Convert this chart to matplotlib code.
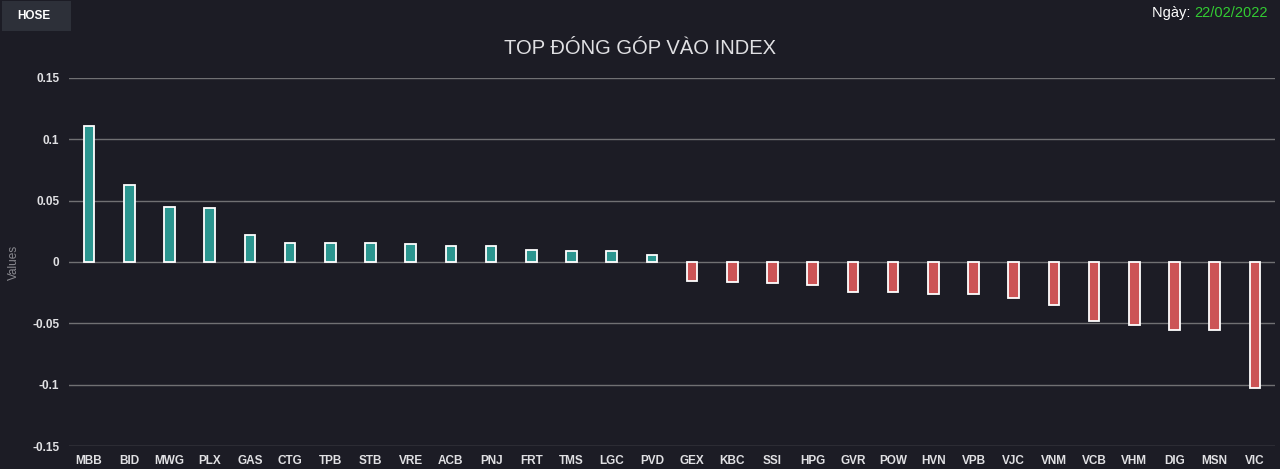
import matplotlib
matplotlib.use("Agg")
import matplotlib.pyplot as plt
from matplotlib.patches import Rectangle

plt.rcParams['font.family'] = ['Liberation Sans', 'DejaVu Sans']

categories = ["MBB", "BID", "MWG", "PLX", "GAS", "CTG", "TPB", "STB", "VRE", "ACB",
              "PNJ", "FRT", "TMS", "LGC", "PVD", "GEX", "KBC", "SSI", "HPG", "GVR",
              "POW", "HVN", "VPB", "VJC", "VNM", "VCB", "VHM", "DIG", "MSN", "VIC"]
values = [0.1107, 0.0628, 0.0451, 0.0443, 0.0221, 0.0156, 0.0156, 0.0156, 0.0148, 0.0131,
          0.0131, 0.0098, 0.0090, 0.0090, 0.0057, -0.0156, -0.0164, -0.0175, -0.0189, -0.0241,
          -0.0241, -0.0262, -0.0262, -0.0295, -0.0352, -0.0484, -0.0516, -0.0557, -0.0557, -0.1028]
yticks = [-0.15, -0.1, -0.05, 0, 0.05, 0.1, 0.15]
ytick_labels = ["-0.15", "-0.1", "-0.05", "0", "0.05", "0.1", "0.15"]
title = "TOP ĐÓNG GÓP VÀO INDEX"
date_label = "Ngày: "
date_value = "22/02/2022"
button_label = "HOSE"

BG = "#1c1c25"
POS = "#2b958f"
NEG = "#cc5456"
GRID = "#707073"
TXT = "#e0e0e3"

W, H = 1280, 469
fig = plt.figure(figsize=(W / 100, H / 100), dpi=100, facecolor=BG)
left, right, top, bottom = 69, 1275, 78, 446
ax = fig.add_axes([left / W, 1 - bottom / H, (right - left) / W, (bottom - top) / H])
ax.set_facecolor(BG)

x = list(range(len(categories)))
colors = [POS if v >= 0 else NEG for v in values]
ax.bar(x, values, width=0.26, color=colors, edgecolor="white", linewidth=1.3, zorder=3)

ax.set_xlim(-0.5, len(categories) - 0.5)
ax.set_ylim(-0.15, 0.15)
ax.set_yticks(yticks)
ax.set_yticklabels(ytick_labels)
ax.set_xticks(x)
ax.set_xticklabels(categories)
ax.grid(axis="y", color=GRID, linewidth=1, zorder=0)
ax.tick_params(axis="y", length=0, pad=7, labelsize=8.5, labelcolor=TXT)
ax.tick_params(axis="x", length=0, pad=6.5, labelsize=8.5, labelcolor=TXT)
for lbl in ax.get_xticklabels() + ax.get_yticklabels():
    lbl.set_fontweight("bold")
for s in ax.spines.values():
    s.set_visible(False)

ax.set_ylabel("Values", color="#8a8a90", fontsize=8.5, labelpad=9)

fig.text(640 / W, 1 - 48 / H, title, color=TXT, fontsize=14.5, ha="center", va="center")

# date
t2 = fig.text(1268 / W, 1 - 13 / H, date_value, color="#33cc33", fontsize=10.5, ha="right", va="center")
fig.canvas.draw()
bb = t2.get_window_extent()
fig.text(bb.x0 / W, 1 - 13 / H, date_label, color="white", fontsize=10.5, ha="right", va="center")

# button
fig.patches.append(Rectangle((2 / W, 1 - 31 / H), 69 / W, 30 / H, transform=fig.transFigure,
                             facecolor="#2d3039", edgecolor="none"))
fig.text(34 / W, 1 - 16 / H, button_label, color="white", fontsize=8.5, fontweight="bold",
         ha="center", va="center")

fig.savefig("out.png", dpi=100, facecolor=BG)
